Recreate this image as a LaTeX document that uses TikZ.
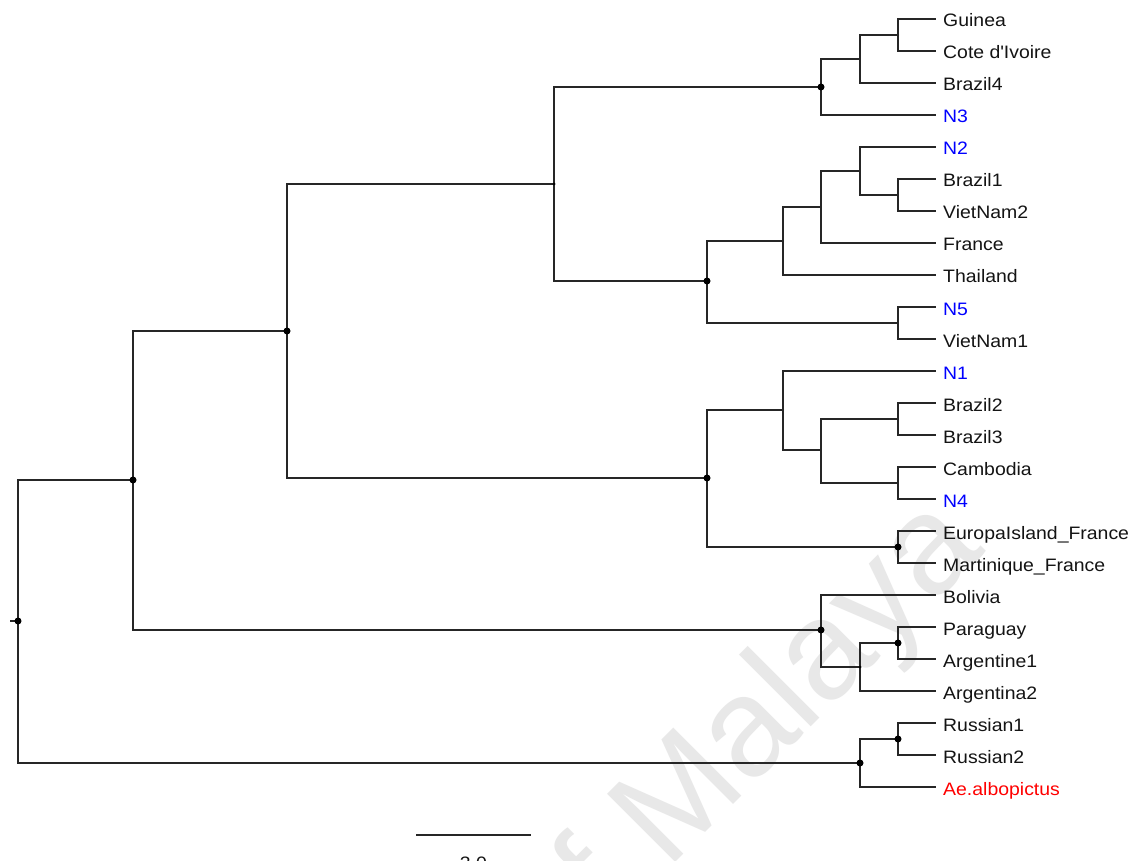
\documentclass[tikz,border=0pt]{standalone}
\usepackage{fontspec}
\setmainfont{Liberation Sans}[FakeStretch=1.08]
\newfontfamily\wmfont{Liberation Sans}
\begin{document}
\begin{tikzpicture}[x=1pt,y=-1pt,
  branch/.style={draw=black!85,line width=1.25pt},
  leaf/.style={anchor=west,inner xsep=7pt,inner ysep=0pt,text height=16pt,text depth=0pt,
    font=\fontsize{18}{18}\selectfont,text=black!92},
  nlabel/.style={leaf,text=blue},
  outgroup/.style={leaf,text=red},
  wmark/.style={inner sep=0pt,rotate=45,text=black!9,font=\wmfont\fontsize{140}{140}\selectfont},
  bigdot/.style={fill=black,circle,inner sep=0pt,minimum size=7pt},
  smalldot/.style={fill=black,circle,inner sep=0pt,minimum size=3pt},
  tinydot/.style={fill=black!85,circle,inner sep=0pt,minimum size=2pt}]
\clip (0,0) rectangle (1146,861);
\fill[white] (0,0) rectangle (1146,861);
% watermark
\node[wmark,anchor=base west] (wm) at (667,871) {Malaya};
\node[wmark,anchor=base east] (wmof) at (wm.base west) {of\kern0.28em\null};
% internal nodes
\coordinate (R) at (18,621);
\coordinate (stub) at (10,621);
\coordinate (A) at (133,480);
\coordinate (B) at (287,331);
\coordinate (C) at (554,184);
\coordinate (N3c) at (821,87);
\coordinate (G1) at (860,59);
\coordinate (G2) at (898,35);
\coordinate (D) at (707,281);
\coordinate (D1) at (783,241);
\coordinate (D3) at (821,207);
\coordinate (D4) at (860,171);
\coordinate (D5) at (898,195);
\coordinate (D2) at (898,323);
\coordinate (E) at (707,478);
\coordinate (E1) at (783,410);
\coordinate (E3) at (821,450);
\coordinate (E4) at (898,419);
\coordinate (E5) at (898,483);
\coordinate (E2) at (898,547);
\coordinate (SA) at (821,630);
\coordinate (SA1) at (860,667);
\coordinate (SA2) at (898,643);
\coordinate (Rus) at (860,763);
\coordinate (Rus1) at (898,739);
% leaves
\node[leaf] (guinea) at (936,19) {Guinea};
\node[leaf] (cote) at (936,51) {Cote d\textquotesingle Ivoire};
\node[leaf] (brazil4) at (936,83) {Brazil4};
\node[nlabel] (n3) at (936,115) {N3};
\node[nlabel] (n2) at (936,147) {N2};
\node[leaf] (brazil1) at (936,179) {Brazil1};
\node[leaf] (vietnam2) at (936,211) {VietNam2};
\node[leaf] (france) at (936,243) {France};
\node[leaf] (thailand) at (936,275) {Thailand};
\node[nlabel] (n5) at (936,307) {N5};
\node[leaf] (vietnam1) at (936,339) {VietNam1};
\node[nlabel] (n1) at (936,371) {N1};
\node[leaf] (brazil2) at (936,403) {Brazil2};
\node[leaf] (brazil3) at (936,435) {Brazil3};
\node[leaf] (cambodia) at (936,467) {Cambodia};
\node[nlabel] (n4) at (936,499) {N4};
\node[leaf] (europa) at (936,531) {EuropaIsland\_France};
\node[leaf] (martinique) at (936,563) {Martinique\_France};
\node[leaf] (bolivia) at (936,595) {Bolivia};
\node[leaf] (paraguay) at (936,627) {Paraguay};
\node[leaf] (argentine1) at (936,659) {Argentine1};
\node[leaf] (argentina2) at (936,691) {Argentina2};
\node[leaf] (russian1) at (936,723) {Russian1};
\node[leaf] (russian2) at (936,755) {Russian2};
\node[outgroup] (ae) at (936,787) {Ae.albopictus};
% branches
\draw[branch] (stub) -- (R);
\draw[branch] (R) |- (A); \draw[branch] (R) |- (Rus);
\draw[branch] (A) |- (B); \draw[branch] (A) |- (SA);
\draw[branch] (B) |- (C); \draw[branch] (B) |- (E);
\draw[branch] (C) |- (N3c); \draw[branch] (C) |- (D);
\draw[branch] (N3c) |- (G1); \draw[branch] (N3c) |- (n3.west);
\draw[branch] (G1) |- (G2); \draw[branch] (G1) |- (brazil4.west);
\draw[branch] (G2) |- (guinea.west); \draw[branch] (G2) |- (cote.west);
\draw[branch] (D) |- (D1); \draw[branch] (D) |- (D2);
\draw[branch] (D1) |- (D3); \draw[branch] (D1) |- (thailand.west);
\draw[branch] (D3) |- (D4); \draw[branch] (D3) |- (france.west);
\draw[branch] (D4) |- (n2.west); \draw[branch] (D4) |- (D5);
\draw[branch] (D5) |- (brazil1.west); \draw[branch] (D5) |- (vietnam2.west);
\draw[branch] (D2) |- (n5.west); \draw[branch] (D2) |- (vietnam1.west);
\draw[branch] (E) |- (E1); \draw[branch] (E) |- (E2);
\draw[branch] (E1) |- (n1.west); \draw[branch] (E1) |- (E3);
\draw[branch] (E3) |- (E4); \draw[branch] (E3) |- (E5);
\draw[branch] (E4) |- (brazil2.west); \draw[branch] (E4) |- (brazil3.west);
\draw[branch] (E5) |- (cambodia.west); \draw[branch] (E5) |- (n4.west);
\draw[branch] (E2) |- (europa.west); \draw[branch] (E2) |- (martinique.west);
\draw[branch] (SA) |- (bolivia.west); \draw[branch] (SA) |- (SA1);
\draw[branch] (SA1) |- (SA2); \draw[branch] (SA1) |- (argentina2.west);
\draw[branch] (SA2) |- (paraguay.west); \draw[branch] (SA2) |- (argentine1.west);
\draw[branch] (Rus) |- (Rus1); \draw[branch] (Rus) |- (ae.west);
\draw[branch] (Rus1) |- (russian1.west); \draw[branch] (Rus1) |- (russian2.west);
% node dots
\foreach \p in {R,A,B,N3c,D,E,E2,SA,SA2,Rus,Rus1} \node[bigdot] at (\p) {};
\foreach \p in {C,SA1} \node[smalldot] at (\p) {};
\foreach \p in {G2,D1,E1} \node[tinydot] at (\p) {};
% scale bar
\coordinate (s1) at (416,835);
\coordinate (s2) at (531,835);
\draw[branch] (s1) -- (s2);
\node[anchor=north,inner sep=0pt,text height=13pt,text depth=0pt,font=\fontsize{18}{18}\selectfont,text=black!92] (scale) at (473.5,856) {3.0};
\end{tikzpicture}
\end{document}
